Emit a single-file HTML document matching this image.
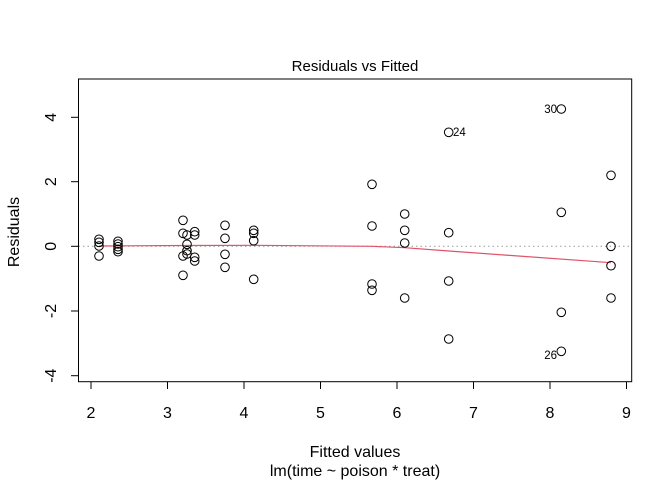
<!DOCTYPE html>
<html><head><style>html,body{margin:0;padding:0;background:#fff}svg{display:block}</style></head>
<body>
<svg width="672" height="480" xmlns="http://www.w3.org/2000/svg" font-family="Liberation Sans, sans-serif">
<rect width="672" height="480" fill="#fff"/>
<line x1="78.5" y1="246.3" x2="631.7" y2="246.3" stroke="#999" stroke-dasharray="1.5,3" stroke-width="1"/>
<polyline points="99,246 183,245.5 254,245.3 372,246.3 404.7,247.7 448.7,251 611,262.7" fill="none" stroke="#DF536B" stroke-width="1.2"/>
<rect x="78.5" y="79" width="553.2" height="302.7" fill="none" stroke="#000" stroke-width="1"/>
<g stroke="#000" stroke-width="1">
<line x1="91" y1="381.7" x2="91" y2="389"/><line x1="167.5" y1="381.7" x2="167.5" y2="389"/><line x1="244" y1="381.7" x2="244" y2="389"/><line x1="320.5" y1="381.7" x2="320.5" y2="389"/><line x1="397" y1="381.7" x2="397" y2="389"/><line x1="473.5" y1="381.7" x2="473.5" y2="389"/><line x1="550" y1="381.7" x2="550" y2="389"/><line x1="626.5" y1="381.7" x2="626.5" y2="389"/>
<line x1="78.5" y1="117.3" x2="71" y2="117.3"/><line x1="78.5" y1="181.7" x2="71" y2="181.7"/><line x1="78.5" y1="246.3" x2="71" y2="246.3"/><line x1="78.5" y1="311" x2="71" y2="311"/><line x1="78.5" y1="375.7" x2="71" y2="375.7"/>
</g>
<g font-size="16" text-anchor="middle" fill="#000">
<text x="91" y="418">2</text><text x="167.5" y="418">3</text><text x="244" y="418">4</text><text x="320.5" y="418">5</text><text x="397" y="418">6</text><text x="473.5" y="418">7</text><text x="550" y="418">8</text><text x="626.5" y="418">9</text>
<text transform="translate(56,117.3) rotate(-90)">4</text>
<text transform="translate(56,181.7) rotate(-90)">2</text>
<text transform="translate(56,246.3) rotate(-90)">0</text>
<text transform="translate(56,311) rotate(-90)">-2</text>
<text transform="translate(56,375.7) rotate(-90)">-4</text>
<text x="355" y="71" font-size="15">Residuals vs Fitted</text>
<text x="355" y="457">Fitted values</text>
<text x="355" y="476">lm(time ~ poison * treat)</text>
<text transform="translate(19,232) rotate(-90)">Residuals</text>
</g>
<g fill="none" stroke="#000" stroke-width="1">
<circle cx="99" cy="239.3" r="4.3"/><circle cx="99" cy="242.3" r="4.3"/><circle cx="99" cy="246" r="4.3"/><circle cx="99" cy="256" r="4.3"/>
<circle cx="118" cy="241.3" r="4.3"/><circle cx="118" cy="244" r="4.3"/><circle cx="118" cy="246.7" r="4.3"/><circle cx="118" cy="249.3" r="4.3"/><circle cx="118" cy="251.7" r="4.3"/>
<circle cx="183" cy="220.3" r="4.3"/><circle cx="183" cy="233.3" r="4.3"/><circle cx="183" cy="256" r="4.3"/><circle cx="183" cy="275.3" r="4.3"/>
<circle cx="187" cy="235" r="4.3"/><circle cx="187" cy="244.3" r="4.3"/><circle cx="187" cy="250.7" r="4.3"/><circle cx="187" cy="254" r="4.3"/>
<circle cx="194.7" cy="231.7" r="4.3"/><circle cx="194.7" cy="235" r="4.3"/><circle cx="194.7" cy="257.3" r="4.3"/><circle cx="194.7" cy="261" r="4.3"/>
<circle cx="225" cy="225.3" r="4.3"/><circle cx="225" cy="238.3" r="4.3"/><circle cx="225" cy="254.3" r="4.3"/><circle cx="225" cy="267.3" r="4.3"/>
<circle cx="253.7" cy="230.3" r="4.3"/><circle cx="253.7" cy="233.3" r="4.3"/><circle cx="253.7" cy="240.7" r="4.3"/><circle cx="253.7" cy="279.3" r="4.3"/>
<circle cx="372" cy="184.3" r="4.3"/><circle cx="372" cy="226" r="4.3"/><circle cx="372" cy="284" r="4.3"/><circle cx="372" cy="290.3" r="4.3"/>
<circle cx="404.7" cy="214" r="4.3"/><circle cx="404.7" cy="230.3" r="4.3"/><circle cx="404.7" cy="243" r="4.3"/><circle cx="404.7" cy="298" r="4.3"/>
<circle cx="448.7" cy="132.3" r="4.3"/><circle cx="448.7" cy="232.7" r="4.3"/><circle cx="448.7" cy="281" r="4.3"/><circle cx="448.7" cy="339" r="4.3"/>
<circle cx="561.3" cy="109" r="4.3"/><circle cx="561.3" cy="212.3" r="4.3"/><circle cx="561.3" cy="312.3" r="4.3"/><circle cx="561.3" cy="351.3" r="4.3"/>
<circle cx="611" cy="175.3" r="4.3"/><circle cx="611" cy="246.3" r="4.3"/><circle cx="611" cy="265.7" r="4.3"/><circle cx="611" cy="298" r="4.3"/>
</g>
<g font-size="11.5" fill="#000">
<text x="557" y="113" text-anchor="end">30</text>
<text x="453" y="136">24</text>
<text x="557" y="359" text-anchor="end">26</text>
</g>
</svg>
</body></html>
